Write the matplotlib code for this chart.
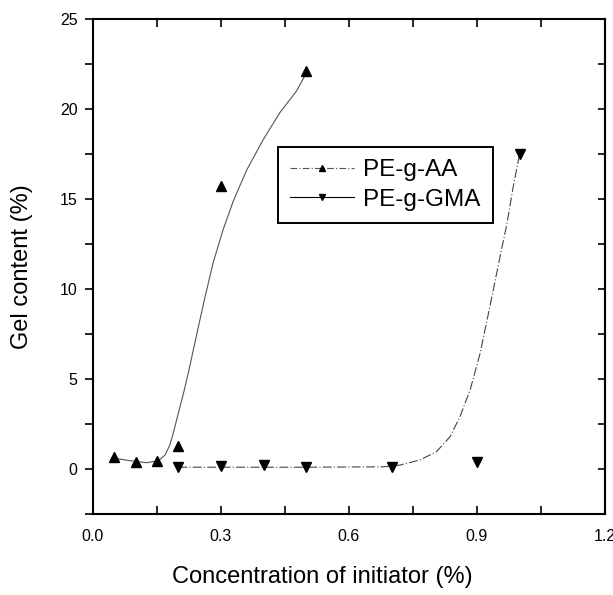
import matplotlib
matplotlib.use("Agg")
import matplotlib.pyplot as plt
from matplotlib.ticker import MultipleLocator

plt.rcParams["font.family"] = ["Liberation Sans", "DejaVu Sans"]

# measured points
aa_x = [0.05, 0.10, 0.15, 0.20, 0.30, 0.50]
aa_y = [0.65, 0.4, 0.45, 1.3, 15.7, 22.1]

gma_x = [0.20, 0.30, 0.40, 0.50, 0.70, 0.90, 1.00]
gma_y = [0.1, 0.15, 0.2, 0.1, 0.1, 0.4, 17.5]

# fitted curves
aa_fit_x = [0.05, 0.09, 0.126, 0.153, 0.169, 0.180, 0.188, 0.200, 0.212, 0.223, 0.235,
            0.247, 0.262, 0.282, 0.305, 0.329, 0.360, 0.399, 0.438, 0.477, 0.50]
aa_fit_y = [0.6, 0.45, 0.35, 0.46, 0.78, 1.33, 1.98, 3.1, 4.2, 5.3, 6.6,
            7.9, 9.5, 11.5, 13.3, 14.9, 16.6, 18.3, 19.8, 21.0, 22.0]

gma_fit_x = [0.20, 0.50, 0.68, 0.72, 0.766, 0.805, 0.837, 0.860, 0.884, 0.907, 0.930,
             0.954, 0.970, 0.985, 1.00]
gma_fit_y = [0.1, 0.1, 0.12, 0.22, 0.5, 0.96, 1.8, 2.9, 4.4, 6.4, 9.0,
             11.8, 13.6, 15.7, 17.5]

fig = plt.figure(figsize=(6.13, 5.95), dpi=100)
ax = fig.add_axes([93 / 613, 81 / 595, 512 / 613, 495 / 595])

ax.plot(aa_fit_x, aa_fit_y, color="#555555", lw=0.8)
ax.plot(gma_fit_x, gma_fit_y, color="#444444", lw=0.8, ls=(0, (8, 2, 1, 2)))
ax.plot(aa_x, aa_y, ls="none", marker="^", ms=7, color="black")
ax.plot(gma_x, gma_y, ls="none", marker="v", ms=7, color="black")

# legend handles
h1, = ax.plot([], [], color="#555555", lw=0.8, ls=(0, (6, 2, 1, 2)), marker="^", ms=5, mfc="black", mec="black")
h2, = ax.plot([], [], color="black", lw=0.8, marker="v", ms=5, mfc="black", mec="black")
leg = ax.legend([h1, h2], ["PE-g-AA", "PE-g-GMA"], loc="upper left",
                bbox_to_anchor=(0.362, 0.741), borderaxespad=0, fontsize=17.5,
                fancybox=False, framealpha=1, edgecolor="black",
                handlelength=2.6, handletextpad=0.4, borderpad=0.5,
                labelspacing=0.3)
leg.get_frame().set_linewidth(1.4)

ax.set_xlim(0, 1.2)
ax.set_ylim(-2.5, 25)
ax.xaxis.set_major_locator(MultipleLocator(0.3))
ax.xaxis.set_minor_locator(MultipleLocator(0.15))
ax.yaxis.set_major_locator(MultipleLocator(5))
ax.yaxis.set_minor_locator(MultipleLocator(2.5))
ax.xaxis.set_major_formatter(plt.FuncFormatter(lambda v, p: f"{v:.1f}"))

ax.tick_params(axis="x", which="both", direction="in", top=True, length=6, width=1.2,
               labelsize=11.5, pad=11)
ax.tick_params(axis="y", which="both", direction="out", length=6, width=1.2,
               labelsize=11.5, pad=5)
for spine in ax.spines.values():
    spine.set_linewidth(1.5)

# right side ticks pointing inward
ax2 = ax.secondary_yaxis("right")
ax2.yaxis.set_major_locator(MultipleLocator(2.5))
ax2.tick_params(direction="in", length=5, width=1.2, labelright=False)
ax2.spines["right"].set_linewidth(1.5)

ax.set_xlabel("Concentration of initiator (%)", fontsize=17)
ax.xaxis.set_label_coords(0.447, -0.105)
ax.set_ylabel("Gel content (%)", fontsize=17)
ax.yaxis.set_label_coords(-0.117, 0.5)

fig.savefig("out.png", dpi=100)
